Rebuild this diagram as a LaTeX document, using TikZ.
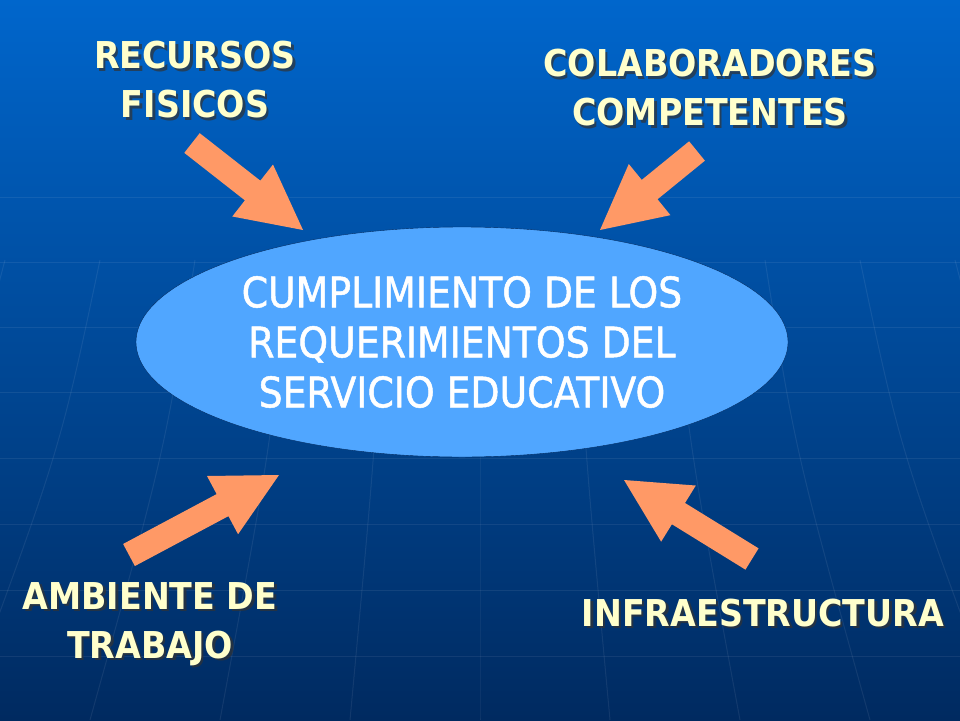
\documentclass[tikz,border=0pt]{standalone}
\usepackage{fontspec}
\setmainfont{DejaVu Sans Condensed}
\newfontfamily\medio[FakeBold=1.2]{DejaVu Sans Condensed}
\usetikzlibrary{calc,shapes.geometric}

\definecolor{fondoarriba}{RGB}{0,102,204}
\definecolor{fondoabajo}{RGB}{0,42,96}
\definecolor{azulclaro}{RGB}{80,166,255}
\definecolor{naranja}{RGB}{255,153,102}
\definecolor{amarillo}{RGB}{255,255,204}

\tikzset{
  etiqueta/.style={text=amarillo, align=center, font=\fontsize{37}{49}\selectfont\bfseries},
  sombra/.style={etiqueta, text=black!80, opacity=0.7},
  flecha/.style={fill=naranja},
  rejilla/.style={white, opacity=0.07, line width=1pt}
}

% block arrow from tail #1 to tip #2
\newcommand{\fatarrow}[2]{%
  \coordinate (hb) at ($(#2)!64pt!(#1)$);
  \fill[flecha] ($(#1)!12.5pt!90:(#2)$) -- ($(hb)!12.5pt!-90:(#1)$)
    -- ($(hb)!33pt!-90:(#1)$) -- (#2) -- ($(hb)!33pt!90:(#1)$)
    -- ($(hb)!12.5pt!90:(#1)$) -- ($(#1)!12.5pt!-90:(#2)$) -- cycle;
}

% label with shadow
\newcommand{\etiq}[3]{%
  \node[sombra] at ($#2+(2.5,2.5)$) {#3};
  \node[etiqueta] (#1) at #2 {#3};
}

\begin{document}
\begin{tikzpicture}[x=1pt,y=-1pt]
\useasboundingbox (0,0) rectangle (960,720);

% background
\shade[top color=fondoarriba, bottom color=fondoabajo] (0,0) rectangle (960,720);
\foreach \y in {197,262,327,392,458,524,590,656}
  \draw[rejilla] (0,\y) -- (960,\y);
\foreach \k in {-5,...,5}
  \draw[rejilla] (480+\k*95,260) .. controls (480+\k*105,450) .. (480+\k*130,720);

% centre
\node[ellipse, draw=fondoabajo, thin, fill=azulclaro, minimum width=652pt,
  minimum height=230pt, inner sep=0pt, text=white, align=center,
  font=\fontsize{42}{50}\selectfont\medio] (centro) at (462,342)
  {CUMPLIMIENTO DE LOS\\REQUERIMIENTOS DEL\\SERVICIO EDUCATIVO};

% labels
\etiq{recursos}{(195,80)}{RECURSOS\\FISICOS}
\etiq{colab}{(710,88)}{COLABORADORES\\ COMPETENTES}
\etiq{ambiente}{(150,624)}{AMBIENTE DE\\TRABAJO}
\etiq{infra}{(763,613)}{INFRAESTRUCTURA}

% arrows
\coordinate (t1) at (192,143); \coordinate (p1) at (303,230);
\coordinate (t2) at (697,151); \coordinate (p2) at (600,230);
\coordinate (t3) at (129,555); \coordinate (p3) at (279,475);
\coordinate (t4) at (752,559); \coordinate (p4) at (624,480);
\fatarrow{t1}{p1}
\fatarrow{t2}{p2}
\fatarrow{t3}{p3}
\fatarrow{t4}{p4}

\end{tikzpicture}
\end{document}
